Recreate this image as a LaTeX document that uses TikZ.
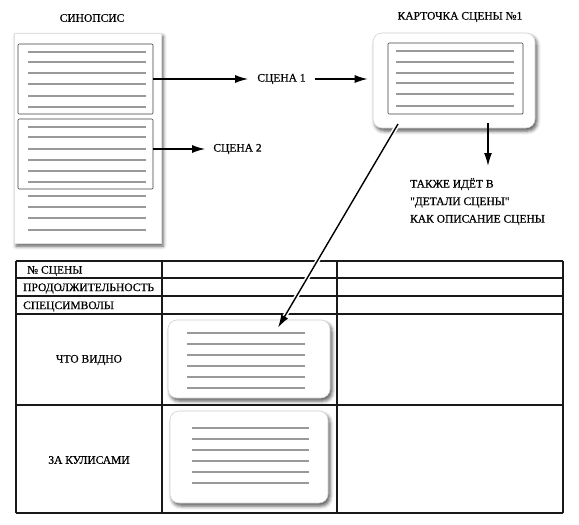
\documentclass[tikz,border=0pt]{standalone}
\usepackage{fontspec}
\setmainfont{Liberation Serif}[UprightFeatures={FakeBold=0.6}]
\newfontfamily\plainq{Liberation Serif}[UprightFeatures={FakeBold=0.6}]
\usetikzlibrary{arrows.meta,shadows.blur,calc}
\begin{document}
\begin{tikzpicture}[x=1pt,y=-1pt,
  txt/.style={font=\fontsize{11.5}{13}\selectfont, inner sep=0pt},
  gline/.style={draw=black!40, line width=2.2pt},
  arr/.style={line width=1.4pt, -{Latex[length=13pt,width=8pt]}},
  shade/.style={blur shadow={shadow xshift=2pt, shadow yshift=-3pt, shadow blur radius=3.5pt, shadow opacity=65}},
  page/.style={shade, fill=white, draw=black!12, line width=0.4pt, inner sep=0pt},
  card/.style={shade, rounded corners=9pt, fill=white, draw=black!18, line width=0.6pt, inner sep=0pt},
  sbox/.style={draw=black!75, line width=0.7pt, rounded corners=1pt, inner sep=0pt},
  tline/.style={draw=black!90, line width=1.1pt},
  tcol/.style={draw=black!90, line width=1.8pt},
]
\useasboundingbox (0,0) rectangle (579,525);

% ---------- synopsis page ----------
\node[txt] (syntitle) at (92,18) {СИНОПСИС};
\node[page, minimum width=147pt, minimum height=210pt] (syn) at (87.5,138) {};
\node[sbox, minimum width=135pt, minimum height=70pt] (box1) at (85.5,79) {};
\node[sbox, minimum width=135pt, minimum height=70pt] (box2) at (85.5,154) {};
\foreach \y in {52,62,73,84,96,107,127,137,149,160,171,182,196,207,218,230}
  \draw[gline] (28,\y) -- (146,\y);

% ---------- scene labels ----------
\node[txt, inner xsep=9pt] (lbl1) at (281.5,79) {СЦЕНА 1};
\node[txt, inner xsep=8pt] (lbl2) at (237.5,149) {СЦЕНА 2};

% ---------- scene card ----------
\node[txt] (cardtitle) at (460,17) {КАРТОЧКА СЦЕНЫ №1};
\node[card, minimum width=162pt, minimum height=95pt] (card) at (454,80.5) {};
\node[sbox, minimum width=135pt, minimum height=71pt] (cardin) at (455.5,78.5) {};
\foreach \y in {51,62,73,83,94,106}
  \draw[gline] (396,\y) -- (514,\y);

\node[txt, align=left, anchor=north west, font=\plainq\fontsize{11.5}{17.5}\selectfont] (note) at (410,178)
  {ТАКЖЕ ИДЁТ В\\"ДЕТАЛИ СЦЕНЫ"\\КАК ОПИСАНИЕ СЦЕНЫ};

% ---------- table ----------
\foreach \y in {261,278,296,314,405,513}
  \draw[tline] (16,\y) -- (563,\y);
\draw[tline] (16,261) -- (16,513);
\draw[tline] (563,261) -- (563,513);
\draw[tcol] (162,261) -- (162,513);
\draw[tcol] (337,261) -- (337,513);

\node[txt, anchor=west] (r1) at (27,271) {№ СЦЕНЫ};
\node[txt, anchor=west] (r2) at (23,288.5) {ПРОДОЛЖИТЕЛЬНОСТЬ};
\node[txt, anchor=west] (r3) at (23,306.5) {СПЕЦСИМВОЛЫ};
\node[txt] (r4) at (89,360) {ЧТО ВИДНО};
\node[txt] (r5) at (89,460) {ЗА КУЛИСАМИ};

\node[card, minimum width=162pt, minimum height=78pt] (tcard1) at (249,359) {};
\foreach \y in {333,344,355,366,377,388}
  \draw[gline] (187,\y) -- (305,\y);
\node[card, minimum width=158pt, minimum height=92pt] (tcard2) at (249,457) {};
\foreach \y in {428,439,450,461,472,483}
  \draw[gline] (192,\y) -- (309,\y);

% ---------- connectors ----------
\coordinate (dstart) at (488,123);
\coordinate (dend) at (488,166);
\coordinate (lstart) at (398,124);
\coordinate (lend) at ($(tcard1.north)+(29,8)$);

\draw[arr] (box1.east) -- (lbl1.west);
\draw[arr, shorten >=5pt] (lbl1.east) -- (lbl1.east -| card.west);
\draw[arr] (box2.east |- lbl2.west) -- (lbl2.west);
\draw[arr] (dstart) -- (dend);
\draw[arr, preaction={draw=white, line width=4.5pt, -}] (lstart) -- (lend);
\end{tikzpicture}
\end{document}
